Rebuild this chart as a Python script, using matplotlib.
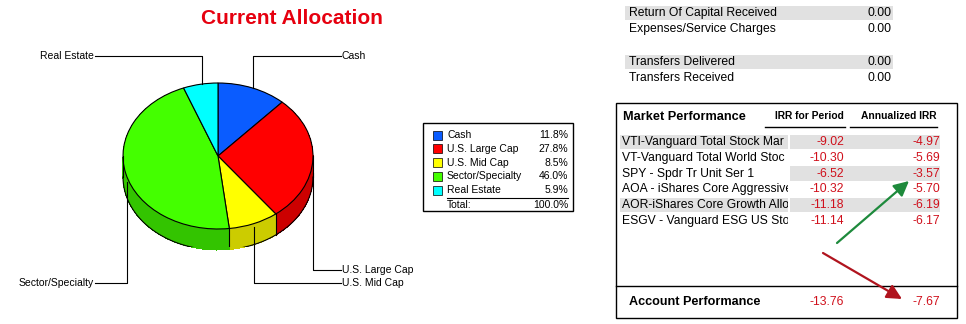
import numpy as np
import matplotlib
matplotlib.use('Agg')
import matplotlib.pyplot as plt
from matplotlib.patches import Rectangle

plt.rcParams['font.family'] = ['Liberation Sans', 'DejaVu Sans']

# allocation data
alloc_names = ['Cash', 'U.S. Large Cap', 'U.S. Mid Cap', 'Sector/Specialty', 'Real Estate']
alloc_pct = [11.8, 27.8, 8.5, 46.0, 5.9]
top_colors = ['#0a5cff', '#ff0000', '#ffff00', '#44ff00', '#00ffff']
side_colors = ['#0848cc', '#cc0000', '#cccc00', '#33c400', '#00cccc']

# summary rows (top right)
summary_labels = ['Return Of Capital Received', 'Expenses/Service Charges', '',
                  'Transfers Delivered', 'Transfers Received']
summary_values = ['0.00', '0.00', '', '0.00', '0.00']

# market performance (names cut off as in the report column)
funds = ['VTI-Vanguard Total Stock Mar', 'VT-Vanguard Total World Stoc',
         'SPY - Spdr Tr Unit Ser 1', 'AOA - iShares Core Aggressive',
         'AOR-iShares Core Growth Alloc', 'ESGV - Vanguard ESG US Stoc']
irr_period = [-9.02, -10.30, -6.52, -10.32, -11.18, -11.14]
irr_annual = [-4.97, -5.69, -3.57, -5.70, -6.19, -6.17]
account_irr_period = -13.76
account_irr_annual = -7.67

W, H = 966, 324
fig = plt.figure(figsize=(W / 100, H / 100), dpi=100)

# ---- pseudo 3D pie ----
cx, cy, rx, ry, depth = 218, 156, 95, 73, 21
pax = fig.add_axes([(cx - 1.25 * rx) / W, (H - cy - 1.25 * ry) / H,
                    2.5 * rx / W, 2.5 * ry / H])
d = depth / ry
n_layers = 40
for k in range(n_layers):
    pax.pie(alloc_pct, colors=side_colors, startangle=90, counterclock=False,
            center=(0, -d + d * k / n_layers),
            wedgeprops=dict(linewidth=0, edgecolor='none', antialiased=False))
pax.pie(alloc_pct, colors=top_colors, startangle=90, counterclock=False,
        wedgeprops=dict(linewidth=0.8, edgecolor='black'))
t = np.linspace(np.pi, 2 * np.pi, 200)
pax.plot(np.cos(t), np.sin(t) - d, color='black', lw=0.8)
pax.plot([-1, -1], [0, -d], color='black', lw=0.8)
pax.plot([1, 1], [0, -d], color='black', lw=0.8)
bounds = 90 - 360 * np.cumsum(alloc_pct) / sum(alloc_pct)
for a in np.radians(bounds):
    if np.sin(a) < 0:
        pax.plot([np.cos(a)] * 2, [np.sin(a), np.sin(a) - d], color='black', lw=0.8)
pax.set_aspect('auto')
pax.set_xlim(-1.25, 1.25)
pax.set_ylim(-1.25, 1.25)
pax.axis('off')

# ---- overlay in pixel coordinates ----
ax = fig.add_axes([0, 0, 1, 1])
ax.set_xlim(0, W)
ax.set_ylim(H, 0)
ax.axis('off')

ax.text(292, 19, 'Current Allocation', color='#e6000f', fontsize=15,
        fontweight='bold', ha='center', va='center')

lab_fs = 7.5
leaders = {
    'Real Estate': ([95, 202, 202], [56, 56, 84], 94, 'right'),
    'Cash': ([253, 253, 341], [88, 56, 56], 342, 'left'),
    'U.S. Large Cap': ([313, 313, 341], [173, 270, 270], 342, 'left'),
    'U.S. Mid Cap': ([254, 254, 341], [227, 283, 283], 342, 'left'),
    'Sector/Specialty': ([95, 127, 127], [283, 283, 182], 94, 'right'),
}
for name, (xs, ys, tx, ha) in leaders.items():
    ax.plot(xs, ys, color='black', lw=0.8)
    ax.text(tx, ys[-1] if ha == 'left' else ys[0], name, fontsize=lab_fs,
            ha=ha, va='center')

# legend box
ax.add_patch(Rectangle((423, 123), 150, 88, fill=False, edgecolor='black', lw=1))
for i, (name, pct, col) in enumerate(zip(alloc_names, alloc_pct, top_colors)):
    y = 135 + i * 13.8
    ax.add_patch(Rectangle((433, y - 4.5), 9, 9, facecolor=col, edgecolor='black', lw=0.5))
    ax.text(447, y, name, fontsize=lab_fs, ha='left', va='center')
    ax.text(568, y, f'{pct:.1f}%', fontsize=lab_fs, ha='right', va='center')
ax.plot([447, 568], [198, 198], color='black', lw=0.8)
ax.text(447, 205, 'Total:', fontsize=lab_fs, ha='left', va='center')
ax.text(568, 205, f'{sum(alloc_pct):.1f}%', fontsize=lab_fs, ha='right', va='center')

# summary rows
tab_fs = 8.7
gray = '#e1e1e1'
for i, (lab, val) in enumerate(zip(summary_labels, summary_values)):
    y = 13 + i * 16.3
    if not lab:
        continue
    if i in (0, 3):
        ax.add_patch(Rectangle((625, y - 7), 268, 14, facecolor=gray, edgecolor='none'))
    ax.text(629, y, lab, fontsize=tab_fs, ha='left', va='center')
    ax.text(892, y, val, fontsize=tab_fs, ha='right', va='center')

# market performance box
ax.add_patch(Rectangle((616, 103), 341, 215, fill=False, edgecolor='black', lw=1))
ax.plot([616, 957], [286, 286], color='black', lw=1)
ax.text(623, 117, 'Market Performance', fontsize=9.2, fontweight='bold',
        ha='left', va='center')
ax.text(809, 116, 'IRR for Period', fontsize=7.4, fontweight='bold',
        ha='center', va='center')
ax.text(899, 116, 'Annualized IRR', fontsize=7.4, fontweight='bold',
        ha='center', va='center')
ax.plot([765, 845], [127, 127], color='black', lw=1)
ax.plot([850, 937], [127, 127], color='black', lw=1)

red = '#d0101c'
clip = Rectangle((610, 100), 178, 200, transform=ax.transData)
for i, (fund, p, a) in enumerate(zip(funds, irr_period, irr_annual)):
    y = 142 + i * 15.8
    if i in (0, 4):
        ax.add_patch(Rectangle((620, y - 7.3), 168, 14.6, facecolor=gray, edgecolor='none'))
    if i in (0, 2, 4):
        ax.add_patch(Rectangle((790, y - 7.3), 150, 14.6, facecolor=gray, edgecolor='none'))
    txt = ax.text(622, y, fund, fontsize=tab_fs, ha='left', va='center', clip_on=True)
    txt.set_clip_path(clip)
    ax.text(844, y, f'{p:.2f}', fontsize=tab_fs, color=red, ha='right', va='center')
    ax.text(940, y, f'{a:.2f}', fontsize=tab_fs, color=red, ha='right', va='center')

ax.text(629, 302, 'Account Performance', fontsize=9.1, fontweight='bold',
        ha='left', va='center')
ax.text(844, 302, f'{account_irr_period:.2f}', fontsize=tab_fs, color=red,
        ha='right', va='center')
ax.text(940, 302, f'{account_irr_annual:.2f}', fontsize=tab_fs, color=red,
        ha='right', va='center')

# arrows
ax.annotate('', xy=(909, 181), xytext=(837, 243),
            arrowprops=dict(arrowstyle='-|>,head_length=0.9,head_width=0.45',
                            color='#1e8a3c', lw=1.6, shrinkA=0, shrinkB=0))
ax.annotate('', xy=(902, 299), xytext=(823, 253),
            arrowprops=dict(arrowstyle='-|>,head_length=0.9,head_width=0.45',
                            color='#b0141e', lw=1.6, shrinkA=0, shrinkB=0))

fig.savefig('out.png', dpi=100)
